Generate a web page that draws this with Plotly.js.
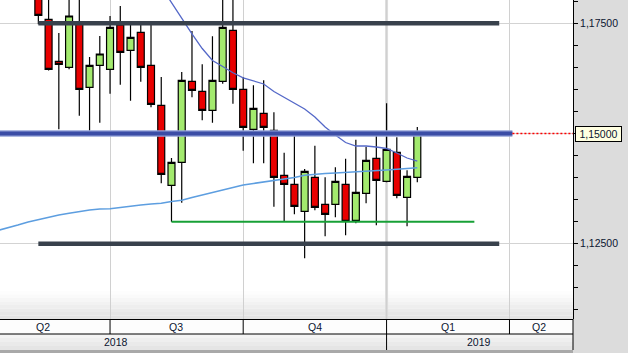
<!DOCTYPE html>
<html>
<head>
<meta charset="utf-8">
<script src="https://cdn.plot.ly/plotly-3.0.1.min.js"></script>
<style>html,body{margin:0;padding:0;background:#dcdcdc;}#chart{width:628px;height:353px;}</style>
</head>
<body>
<div id="chart"></div>
<script>
// Weekly EUR/USD candles (week start dates)
const weeks = ['2018-05-14','2018-05-21','2018-05-28','2018-06-04','2018-06-11','2018-06-18','2018-06-25',
  '2018-07-02','2018-07-09','2018-07-16','2018-07-23','2018-07-30','2018-08-06','2018-08-13','2018-08-20',
  '2018-08-27','2018-09-03','2018-09-10','2018-09-17','2018-09-24','2018-10-01','2018-10-08','2018-10-15',
  '2018-10-22','2018-10-29','2018-11-05','2018-11-12','2018-11-19','2018-11-26','2018-12-03','2018-12-10',
  '2018-12-17','2018-12-24','2018-12-31','2019-01-07','2019-01-14','2019-01-21','2019-01-28'];
const openP  = [1.1930,1.17591,1.16638,1.16502,1.17484,1.16048,1.16547,1.16456,1.17461,1.16887,1.17296,1.16547,1.1564,1.13825,1.14347,1.16184,1.15957,1.15526,1.16184,1.17341,1.16003,1.15095,1.15458,1.15073,1.14052,1.13848,1.13235,1.14006,1.13394,1.13394,1.13848,1.13031,1.13643,1.14437,1.13916,1.14574,1.13553,1.14006];
const highP  = [1.1955,1.1815,1.1728,1.1840,1.1852,1.16735,1.17212,1.17666,1.17892,1.1752,1.1752,1.1750,1.16282,1.14444,1.16395,1.17325,1.1657,1.17205,1.1815,1.1821,1.16275,1.16093,1.16207,1.15481,1.14564,1.14959,1.14195,1.14723,1.14006,1.14233,1.1443,1.1486,1.1470,1.14959,1.15685,1.14914,1.14165,1.15147];
const lowP   = [1.1748,1.1643,1.15095,1.16456,1.15404,1.15064,1.15245,1.15903,1.16107,1.15744,1.16175,1.15594,1.1387,1.12999,1.13429,1.15821,1.153,1.15245,1.1613,1.15676,1.1461,1.14324,1.14324,1.13339,1.13015,1.13167,1.12169,1.13258,1.12668,1.13099,1.12691,1.12963,1.13417,1.12917,1.13893,1.1353,1.12895,1.13893];
const closeP = [1.17681,1.16456,1.1657,1.17666,1.16003,1.16547,1.16804,1.17409,1.16842,1.17182,1.16502,1.15662,1.14074,1.14347,1.16207,1.1598,1.15526,1.16207,1.17409,1.16003,1.15141,1.15572,1.15141,1.14006,1.13848,1.13348,1.14142,1.13326,1.13167,1.13916,1.13008,1.13666,1.14392,1.13938,1.14642,1.13598,1.14029,1.14995];

// Slow moving average
const slowDates = ['2018-04-16','2018-04-23','2018-04-30','2018-05-07'].concat(weeks);
const slowMA = [1.12799,1.12856,1.12924,1.12992,1.13049,1.13106,1.13151,1.1319,1.1323,1.13264,1.13287,1.13294,1.13321,1.13355,1.13378,1.13401,1.13417,1.13457,1.13485,1.13548,1.13605,1.13673,1.13734,1.13786,1.13832,1.13866,1.139,1.13934,1.13963,1.14002,1.14054,1.14077,1.14093,1.14104,1.14115,1.14131,1.14149,1.14161,1.14172,1.1419,1.14206,1.14224];
// Fast moving average (from week of 2018-08-06)
const fastDates = weeks.slice(12);
const fastMA = [1.18324,1.17961,1.17598,1.17262,1.16928,1.16656,1.1652,1.16379,1.16264,1.16191,1.16123,1.15953,1.15817,1.15681,1.15556,1.15374,1.15147,1.14966,1.14796,1.14716,1.14716,1.14694,1.1466,1.14558,1.14444,1.14376];

// Drawn horizontal levels
const levelPrice = [1.175, 1.125, 1.13, 1.15];
const levelStart = ['2018-05-14','2018-05-14','2018-08-13','2018-04-01'];
const levelEnd   = ['2019-03-25','2019-03-25','2019-03-08','2019-04-03'];
const lastPrice = 1.15;
const lastPriceLabel = '1,15000';

// Time axis
const quarterStarts = ['2018-07-02','2018-10-01','2019-01-07','2019-04-01'];
const quarterLabels = ['Q2','Q3','Q4','Q1','Q2'];
const quarterLabelAt = ['2018-05-17','2018-08-16','2018-11-19','2019-02-18','2019-04-21'];
const yearLabels = ['2018','2019'];
const yearLabelAt = ['2018-07-06','2019-03-11'];
const yearStarts = ['2019-01-07'];

const xRange = ['2018-04-17 19:00','2019-05-14 10:00'];
const yRange = [1.10792, 1.180286];

const txt = '#0b1530';
const FONT = 'Liberation Sans, Arial, sans-serif';

const traces = [];
traces.push({
  type:'candlestick', x:weeks, open:openP, high:highP, low:lowP, close:closeP,
  increasing:{line:{color:'#000',width:1.2}, fillcolor:'#a3ea6e'},
  decreasing:{line:{color:'#000',width:1.2}, fillcolor:'#e80000'},
  whiskerwidth:0, showlegend:false, hoverinfo:'x+y'
});
traces.push({type:'scatter', mode:'lines', x:slowDates, y:slowMA, line:{color:'#5d9ee0', width:1.6}, hoverinfo:'skip'});
traces.push({type:'scatter', mode:'lines', x:fastDates, y:fastMA, line:{color:'#5468c8', width:1.3}, hoverinfo:'skip'});

const levelStyle = [
  {color:'#38414c', width:4.5},
  {color:'#38414c', width:4.5},
  {color:'#17a036', width:2},
  {color:'#3b4da6', width:4}
];
for (let i = 0; i < levelPrice.length; i++) {
  if (i === 3) {
    traces.push({type:'scatter', mode:'lines', x:[levelStart[i], levelEnd[i]], y:[levelPrice[i], levelPrice[i]],
      line:{color:'#95a3d8', width:6.5}, hoverinfo:'skip'});
  }
  traces.push({type:'scatter', mode:'lines', x:[levelStart[i], levelEnd[i]], y:[levelPrice[i], levelPrice[i]],
    line:levelStyle[i], hoverinfo:'skip'});
}
traces.push({type:'scatter', mode:'lines', x:[levelEnd[3], xRange[1]], y:[lastPrice, lastPrice],
  line:{color:'#ff0000', width:1.3, dash:'2px,2px'}, hoverinfo:'skip'});

// pixel helpers for paper-y below the plot (plot height 319)
const PH = 319;
const py = p => (PH - p) / PH;

const shapes = [];
// bottom gradient inside plot
const gradCols = ['#fdfdfd','#fafafa','#f6f6f6','#f2f2f2','#eeeeee','#eaeaea','#e6e6e6','#e3e3e3'];
for (let i = 0; i < gradCols.length; i++) {
  shapes.push({type:'rect', xref:'paper', yref:'paper', x0:0, x1:1, y0:py(291 + i*3.5 + 3.5), y1:py(291 + i*3.5),
    fillcolor:gradCols[i], line:{width:0}, layer:'below'});
}
// thicker year boundary grid
yearStarts.forEach(d => shapes.push({type:'line', xref:'x', yref:'paper', x0:d, x1:d, y0:0, y1:1,
  line:{color:'#dcdcdc', width:3}, layer:'below'}));
// quarter row
shapes.push({type:'rect', xref:'paper', yref:'paper', x0:0, x1:1, y0:py(334), y1:py(319), fillcolor:'#fdfdfd', line:{width:0}});
// year row gradient
const yrCols = ['#f4f4f4','#efefef','#eaeaea','#e5e5e5'];
for (let i = 0; i < yrCols.length; i++) {
  shapes.push({type:'rect', xref:'paper', yref:'paper', x0:0, x1:1, y0:py(334 + (i+1)*4), y1:py(334 + i*4), fillcolor:yrCols[i], line:{width:0}});
}
shapes.push({type:'rect', xref:'paper', yref:'paper', x0:0, x1:1, y0:py(353), y1:py(350), fillcolor:'#a9a9a9', line:{width:0}});
// row borders
shapes.push({type:'line', xref:'paper', yref:'paper', x0:0, x1:1, y0:py(319.5), y1:py(319.5), line:{color:'#000', width:1}});
shapes.push({type:'line', xref:'paper', yref:'paper', x0:0, x1:1, y0:py(334), y1:py(334), line:{color:'#000', width:1}});
quarterStarts.forEach(d => shapes.push({type:'line', xref:'x', yref:'paper', x0:d, x1:d, y0:py(334), y1:py(319.5), line:{color:'#000', width:1}}));
yearStarts.forEach(d => shapes.push({type:'line', xref:'x', yref:'paper', x0:d, x1:d, y0:py(350), y1:py(334), line:{color:'#000', width:1}}));
shapes.push({type:'line', xref:'paper', yref:'paper', x0:1, x1:1, y0:py(350), y1:py(319), line:{color:'#000', width:1}});

const annotations = [];
quarterLabels.forEach((t, i) => annotations.push({text:t, x:quarterLabelAt[i], xref:'x', y:py(327), yref:'paper',
  showarrow:false, xanchor:'center', yanchor:'middle', font:{family:FONT, size:10.5, color:txt}}));
yearLabels.forEach((t, i) => annotations.push({text:t, x:yearLabelAt[i], xref:'x', y:py(342), yref:'paper',
  showarrow:false, xanchor:'center', yanchor:'middle', font:{family:FONT, size:10.5, color:txt}}));
annotations.push({text:lastPriceLabel, xref:'paper', x:1 + 2/573, xanchor:'left', yref:'y', y:lastPrice, yanchor:'middle',
  showarrow:false, bgcolor:'#ffffe1', bordercolor:'#000', borderwidth:1, borderpad:1, width:43, height:12,
  font:{family:FONT, size:10.5, color:txt}});

const layout = {
  width:628, height:353,
  margin:{l:0, r:55, t:0, b:34, pad:0},
  paper_bgcolor:'#dcdcdc', plot_bgcolor:'#ffffff',
  showlegend:false, separators:', ',
  font:{family:FONT, size:10.5, color:txt},
  xaxis:{type:'date', range:xRange, tickmode:'array', tickvals:quarterStarts, showticklabels:false, ticks:'',
    showgrid:true, gridcolor:'#d0d0d0', gridwidth:1, zeroline:false, showline:false,
    rangeslider:{visible:false}, fixedrange:true},
  yaxis:{side:'right', range:yRange, tick0:1.125, dtick:0.025, tickformat:'.5f', ticks:'outside', ticklen:4,
    tickcolor:'#000', showline:true, linecolor:'#000', linewidth:1, gridcolor:'#d3d3d3', zeroline:false,
    tickfont:{family:FONT, size:10.5, color:txt},
    minor:{tick0:1.1, dtick:0.005, ticks:'outside', ticklen:4, tickcolor:'#000', showgrid:false}, fixedrange:true},
  boxgap:0.2, boxgroupgap:0.15,
  shapes:shapes, annotations:annotations
};

Plotly.newPlot('chart', traces, layout, {displayModeBar:false, staticPlot:true});
</script>
</body>
</html>
